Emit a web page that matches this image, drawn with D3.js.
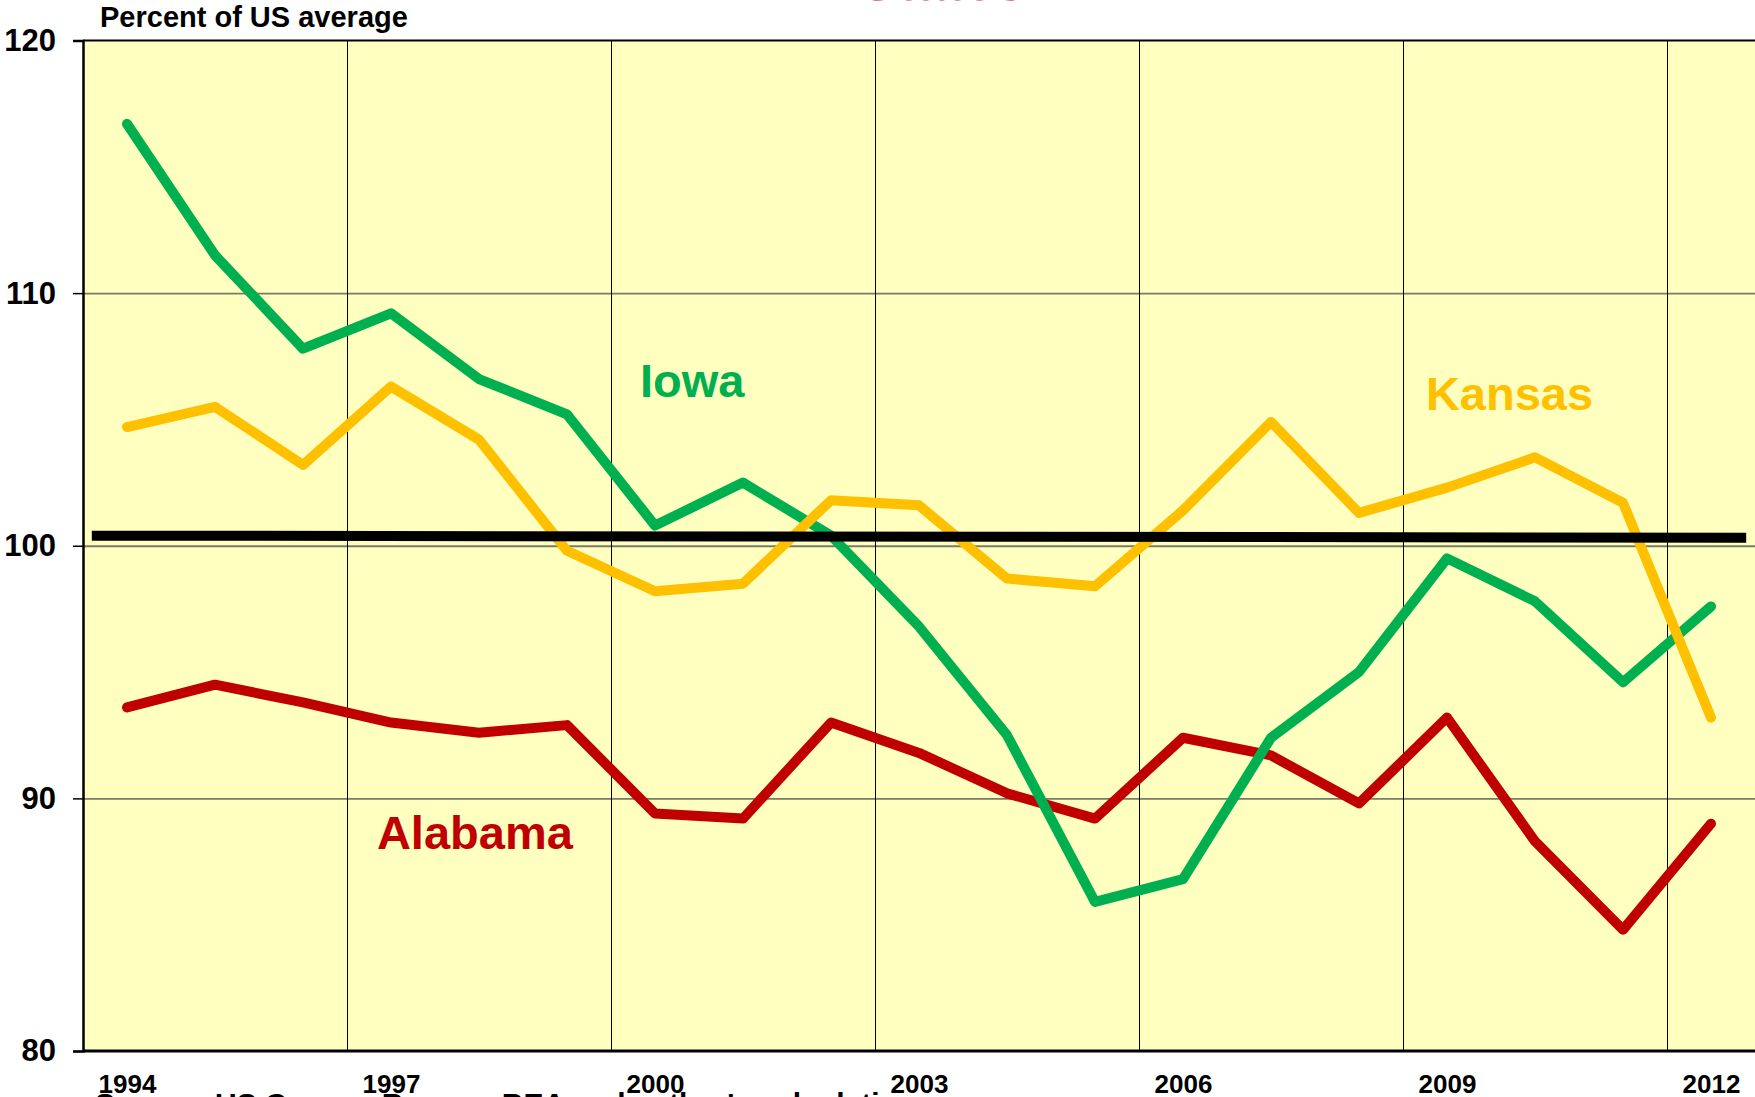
<!DOCTYPE html>
<html>
<head>
<meta charset="utf-8">
<script src="https://cdn.jsdelivr.net/npm/d3@7"></script>
<style>
  html, body { margin: 0; padding: 0; background: #fff; overflow: hidden; }
  svg { display: block; font-family: "Liberation Sans", Arial, sans-serif; font-weight: bold; }
</style>
</head>
<body>
<div chart></div>
<script>
const years = [1994, 1995, 1996, 1997, 1998, 1999, 2000, 2001, 2002, 2003,
  2004, 2005, 2006, 2007, 2008, 2009, 2010, 2011, 2012];

const iowa = [116.7, 111.5, 107.8, 109.2, 106.6, 105.2, 100.8, 102.5, 100.4, 96.8,
  92.5, 85.9, 86.8, 92.4, 95.0, 99.5, 97.8, 94.6, 97.6];
const kansas = [104.7, 105.5, 103.2, 106.3, 104.2, 99.8, 98.2, 98.5, 101.8, 101.6,
  98.7, 98.4, 101.4, 104.9, 101.3, 102.3, 103.5, 101.7, 93.2];
const alabama = [93.6, 94.5, 93.8, 93.0, 92.6, 92.9, 89.4, 89.2, 93.0, 91.8,
  90.2, 89.2, 92.4, 91.7, 89.8, 93.2, 88.3, 84.8, 89.0];

// US average reference bar (drawn a little above 100)
const usYears = [1993.6, 2012.4];
const usValues = [100.4, 100.32];

const yTicks = [80, 90, 100, 110, 120];
const xLabelYears = [1994, 1997, 2000, 2003, 2006, 2009, 2012];

const size = { width: 1755, height: 1097 };
const plot = { left: 83, right: 1755, top: 40.5, bottom: 1051 };

const series = [
  { name: "Alabama", values: alabama, color: "#c00000", label: [1996.84, 88.0] },
  { name: "Iowa", values: iowa, color: "#00b050", label: [1999.83, 105.9] },
  { name: "Kansas", values: kansas, color: "#ffc000", label: [2008.76, 105.38] }
];

const svg = d3.select("[chart]")
  .append("svg")
  .attr("width", size.width)
  .attr("height", size.height);

// one band per year, points in the middle of the band
const xScale = d3.scaleLinear()
  .domain([years[0] - 0.5, years[years.length - 1] + 0.5])
  .range([plot.left, plot.right]);

const yScale = d3.scaleLinear()
  .domain([80, 120])
  .range([plot.bottom, plot.top]);

// plot background
svg.append("rect")
  .attr("x", plot.left)
  .attr("y", plot.top)
  .attr("width", plot.right - plot.left)
  .attr("height", plot.bottom - plot.top)
  .attr("fill", "#ffffc0");

// horizontal gridlines
svg.append("g")
  .attr("class", "grid")
  .attr("transform", `translate(${plot.left},0)`)
  .call(d3.axisLeft(yScale).tickValues([90, 100, 110]).tickSize(-(plot.right - plot.left)).tickFormat(""))
  .call((g) => g.select(".domain").remove())
  .call((g) => g.selectAll("line").attr("stroke", "#7a7a6a").attr("stroke-width", 1.8));

// vertical gridlines between year bands, every 3 years
const gridYears = xLabelYears.slice(1).map((d) => d - 0.5);
svg.append("g")
  .attr("class", "grid")
  .attr("transform", `translate(0,${plot.bottom})`)
  .call(d3.axisBottom(xScale).tickValues(gridYears).tickSize(-(plot.bottom - plot.top)).tickFormat(""))
  .call((g) => g.select(".domain").remove())
  .call((g) => g.selectAll("line").attr("stroke", "#000").attr("stroke-width", 1));

// lines
const lineGenerator = d3.line()
  .x((d, i) => xScale(years[i]))
  .y((d) => yScale(d));

svg.append("g")
  .selectAll("path")
  .data(series)
  .join("path")
  .attr("d", (d) => lineGenerator(d.values))
  .attr("fill", "none")
  .attr("stroke", (d) => d.color)
  .attr("stroke-width", 10)
  .attr("stroke-linejoin", "round")
  .attr("stroke-linecap", "round");

// US average bar
svg.append("path")
  .attr("d", d3.line().x((d, i) => xScale(usYears[i])).y((d) => yScale(d))(usValues))
  .attr("fill", "none")
  .attr("stroke", "#000")
  .attr("stroke-width", 10);

// series labels
svg.append("g")
  .selectAll("text")
  .data(series)
  .join("text")
  .attr("x", (d) => xScale(d.label[0]))
  .attr("y", (d) => yScale(d.label[1]))
  .attr("fill", (d) => d.color)
  .attr("font-size", 47)
  .text((d) => d.name);

// plot frame
svg.append("line")
  .attr("x1", plot.left).attr("x2", plot.right)
  .attr("y1", plot.top).attr("y2", plot.top)
  .attr("stroke", "#000").attr("stroke-width", 2);

svg.append("line")
  .attr("x1", plot.left).attr("x2", plot.right)
  .attr("y1", plot.bottom).attr("y2", plot.bottom)
  .attr("stroke", "#000").attr("stroke-width", 3);

// Y axis
svg.append("g")
  .attr("class", "y-axis")
  .attr("transform", `translate(${plot.left},0)`)
  .call(d3.axisLeft(yScale).tickValues(yTicks).tickSize(10).tickPadding(17))
  .call((g) => g.select(".domain").attr("stroke-width", 2.5))
  .call((g) => g.selectAll("line").attr("stroke-width", 1.5))
  .call((g) => g.selectAll("text")
    .attr("font-size", 31)
    .attr("font-family", "'Liberation Sans', Arial, sans-serif")
    .attr("font-weight", "bold")
    .attr("fill", "#000"));

// X axis labels
svg.append("g")
  .attr("class", "x-axis")
  .attr("transform", "translate(0,1093)")
  .call(d3.axisBottom(xScale).tickValues(xLabelYears).tickSize(0).tickPadding(0).tickFormat(d3.format("d")))
  .call((g) => g.select(".domain").remove())
  .call((g) => g.selectAll("text")
    .attr("y", 0)
    .attr("dy", null)
    .attr("font-size", 26)
    .attr("font-family", "'Liberation Sans', Arial, sans-serif")
    .attr("font-weight", "bold")
    .attr("fill", "#000"));

// axis title
svg.append("text")
  .attr("x", 100)
  .attr("y", 27)
  .attr("font-size", 29)
  .text("Percent of US average");

// title, mostly cut off above the picture
svg.append("text")
  .attr("x", 860)
  .attr("y", 0)
  .attr("font-size", 55)
  .attr("fill", "#c00000")
  .text("States");

// source note, cut off below the picture
svg.append("text")
  .attr("x", 95)
  .attr("y", 1114)
  .attr("font-size", 30)
  .text("Source: US Census Bureau, BEA and author's calculations");
</script>
</body>
</html>
